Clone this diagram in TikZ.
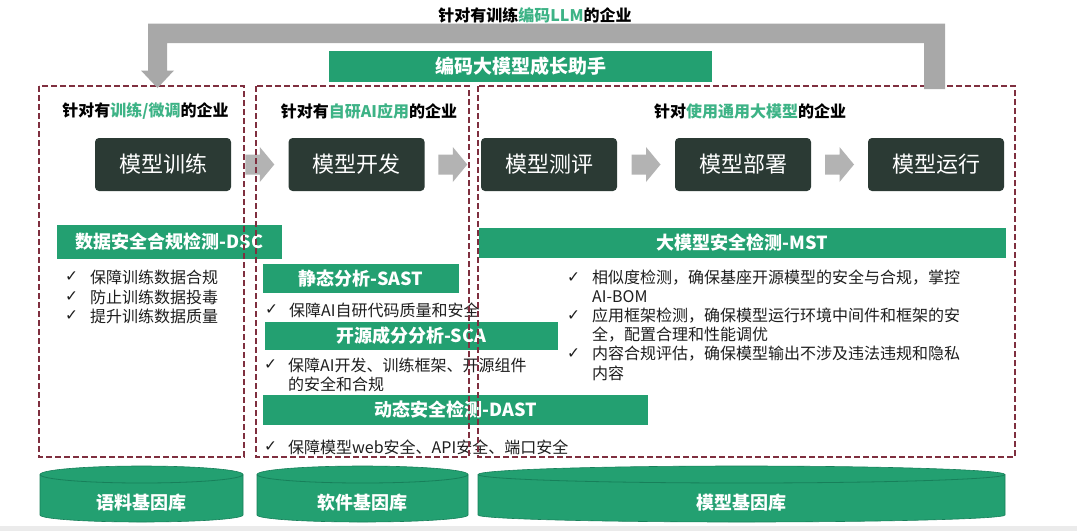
\documentclass[tikz,border=0pt]{standalone}
\usepackage{fontspec}
\setmainfont{Noto Sans CJK SC}
\newfontfamily\symfont{DejaVu Sans}
\usetikzlibrary{calc}
\definecolor{cGreen}{HTML}{23A071}
\definecolor{cGreenDk}{HTML}{17805A}
\definecolor{cHead}{HTML}{3DB386}
\definecolor{cDark}{HTML}{2B3A34}
\definecolor{cDash}{HTML}{7F2F3F}
\definecolor{cGray}{HTML}{A8A8A8}
\definecolor{cArrow}{HTML}{B3B3B3}
\definecolor{cText}{HTML}{1E1E1E}
\definecolor{cStrip}{HTML}{EBEBEB}
\begin{document}
\begin{tikzpicture}[x=1pt,y=-1pt,
  dashbox/.style={draw=cDash, line width=1.3pt, dash pattern=on 6pt off 3pt},
  procbox/.style={fill=cDark, rounded corners=4pt, minimum width=136pt, minimum height=53pt, text=white, font=\fontsize{22}{26}\selectfont, inner sep=0pt},
  greenbar/.style={fill=cGreen, text=white, font=\bfseries\fontsize{18}{22}\selectfont, inner sep=0pt},
  heading/.style={font=\bfseries\fontsize{16}{19}\selectfont, inner sep=0pt, text=black},
  chk/.style={anchor=west, font=\symfont\fontsize{15.5}{18}\selectfont, inner sep=0pt, text=cText},
  itemtext/.style={anchor=west, font=\fontsize{16}{19}\selectfont, inner sep=0pt, text=cText},
  cyltext/.style={text=white, font=\bfseries\fontsize{18}{22}\selectfont, inner sep=0pt},
  blockarrow/.pic={\fill[cArrow] (-14.5,-10) -- (0,-10) -- (0,-17.5) -- (14.5,0) -- (0,17.5) -- (0,10) -- (-14.5,10) -- cycle;}
]
\useasboundingbox (0,0) rectangle (1077,531);
\fill[white] (0,0) rectangle (1077,531);
\fill[cStrip] (0,526) rectangle (1077,531);

% title
\node[heading] (title) at (535,15) {针对有训练\textcolor{cHead}{编码LLM}的企业};

% growth assistant bar
\node[greenbar, minimum width=383pt, minimum height=31pt, font=\bfseries\fontsize{19}{22}\selectfont] (grow) at (520.5,66) {编码大模型成长助手};

% headings
\node[heading] (h1) at (145.5,111) {针对有\textcolor{cHead}{训练/微调}的企业};
\node[heading] (h2) at (369,111) {针对有\textcolor{cHead}{自研AI应用}的企业};
\node[heading] (h3) at (750,111) {针对\textcolor{cHead}{使用通用大模型}的企业};

% process boxes
\node[procbox] (p1) at (163,164.5) {模型训练};
\node[procbox] (p2) at (356.6,164.5) {模型开发};
\node[procbox] (p3) at (549,164.5) {模型测评};
\node[procbox] (p4) at (743,164.5) {模型部署};
\node[procbox] (p5) at (936,164.5) {模型运行};
\pic at ($(p1.east)!0.5!(p2.west)$) {blockarrow};
\pic at ($(p2.east)!0.5!(p3.west)$) {blockarrow};
\pic at ($(p3.east)!0.5!(p4.west)$) {blockarrow};
\pic at ($(p4.east)!0.5!(p5.west)$) {blockarrow};

% green tool bars
\node[greenbar, minimum width=225pt, minimum height=34pt] (dsc) at (169.5,241.5) {数据安全合规检测-DSC};
\node[greenbar, minimum width=527.4pt, minimum height=30pt] (mst) at (742.3,243) {大模型安全检测-MST};
\node[greenbar, minimum width=196pt, minimum height=29pt] (sast) at (361,278.5) {静态分析-SAST};
\node[greenbar, minimum width=293pt, minimum height=28pt] (sca) at (411.5,336) {开源成分分析-SCA};
\node[greenbar, minimum width=385pt, minimum height=30pt] (dast) at (455.5,410) {动态安全检测-DAST};

% box 1 items
\node[chk] (c11) at (65,277) {✓};
\node[itemtext] (t11) at (90,277) {保障训练数据合规};
\node[chk] (c12) at (65,297) {✓};
\node[itemtext] (t12) at (90,297) {防止训练数据投毒};
\node[chk] (c13) at (65,316) {✓};
\node[itemtext] (t13) at (90,316) {提升训练数据质量};

% box 2 items
\node[chk] (c21) at (265,310) {✓};
\node[itemtext] (t21) at (289,310) {保障AI自研代码质量和安全};
\node[chk] (c22) at (264,365) {✓};
\node[itemtext] (t22) at (288,365) {保障AI开发、训练框架、开源组件};
\node[itemtext] (t22b) at (288,384) {的安全和合规};
\node[chk] (c23) at (264,447) {✓};
\node[itemtext] (t23) at (288,447) {保障模型web安全、API安全、端口安全};

% box 3 items
\node[chk] (c31) at (567,278) {✓};
\node[itemtext] (t31) at (592,278) {相似度检测，确保基座开源模型的安全与合规，掌控};
\node[itemtext] (t31b) at (592,297) {AI-BOM};
\node[chk] (c32) at (567,316) {✓};
\node[itemtext] (t32) at (592,316) {应用框架检测，确保模型运行环境中间件和框架的安};
\node[itemtext] (t32b) at (592,335) {全，配置合理和性能调优};
\node[chk] (c33) at (567,354) {✓};
\node[itemtext] (t33) at (592,354) {内容合规评估，确保模型输出不涉及违法违规和隐私};
\node[itemtext] (t33b) at (592,373) {内容};

% dashed enterprise boxes
\draw[dashbox] (39,86) rectangle (244,457);
\draw[dashbox] (256,86) rectangle (469,457);
\draw[dashbox] (478,86) rectangle (1015,457);

% gray U-shaped arrow
\coordinate (uFrom) at (934.5,89);
\coordinate (uTo) at (157.5,88);
\fill[cGray] (945,89) -- (945,23.5) -- (148,23.5) -- (148,70.5) -- (141,70.5) -- (uTo) -- (174,70.5) -- (167,70.5) -- (167,43) -- (924,43) -- (924,89) -- cycle;

% gene libraries (cylinders)
\foreach \L/\R/\nm/\txt in {40/243/lib1/语料基因库, 257/468/lib2/软件基因库, 478/1005/lib3/模型基因库}{
  \pgfmathsetmacro{\rx}{(\R-\L)/2}
  \fill[cGreen, draw=cGreenDk, line width=0.6pt] (\L,474.5) -- (\L,515) arc[start angle=180, end angle=360, x radius=\rx pt, y radius=7pt] -- (\R,474.5) arc[start angle=0, end angle=180, x radius=\rx pt, y radius=8.5pt] -- cycle;
  \draw[cGreenDk, line width=0.8pt] (\L,474.5) arc[start angle=180, end angle=360, x radius=\rx pt, y radius=8.5pt];
  \node[cyltext] (\nm) at ({(\L+\R)/2},503) {\txt};
}
\end{tikzpicture}
\end{document}
